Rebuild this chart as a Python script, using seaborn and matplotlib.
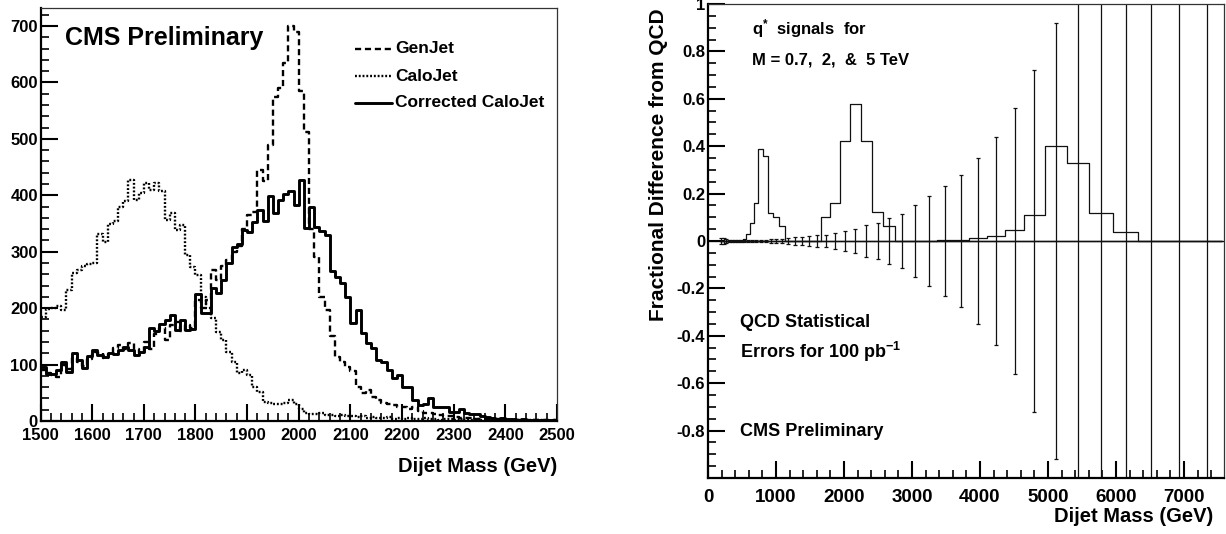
"""
Dijet mass: GenJet / CaloJet / Corrected CaloJet (left) and
q* signals vs QCD statistical errors (right).
"""
import numpy as np
import pandas as pd
import matplotlib
matplotlib.use("Agg")
import matplotlib.pyplot as plt
from matplotlib.ticker import MultipleLocator, FixedLocator, FixedFormatter
import seaborn as sns

# ── Left panel data (10 GeV bins, 1500-2500 GeV) ─────────────────────────────
mass_edges = list(range(1500, 2501, 10))

calojet = [
    185, 198, 200, 203, 197, 232, 262, 268, 275, 278,
    280, 331, 317, 350, 355, 380, 390, 427, 392, 404,
    422, 410, 422, 408, 356, 369, 339, 348, 294, 273,
    259, 220, 200, 183, 158, 144, 122, 105, 85, 90,
    82, 61, 51, 34, 32, 30, 30, 32, 38, 30,
    22, 15, 13, 12, 14, 11, 10, 9, 11, 8,
    9, 7, 8, 6, 7, 5, 6, 7, 4, 5,
    4, 5, 3, 4, 6, 3, 4, 2, 3, 3,
    2, 3, 2, 2, 3, 1, 2, 2, 1, 2,
    1, 2, 1, 1, 2, 1, 1, 1, 0, 1,
]

corrected = [
    95, 83, 83, 90, 105, 87, 121, 108, 94, 115,
    126, 117, 114, 120, 118, 126, 131, 126, 117, 122,
    131, 165, 160, 172, 179, 188, 161, 179, 161, 163,
    225, 192, 192, 235, 227, 250, 280, 309, 313, 339,
    335, 353, 374, 355, 398, 368, 392, 402, 407, 383,
    427, 342, 380, 344, 336, 330, 265, 255, 244, 220,
    173, 197, 156, 138, 129, 108, 104, 90, 76, 81,
    61, 61, 37, 28, 30, 41, 25, 25, 25, 16,
    16, 21, 14, 12, 12, 8, 7, 5, 4, 5,
    3, 3, 2, 3, 2, 2, 1, 2, 1, 2,
]

genjet = [
    90, 85, 82, 78, 100, 92, 112, 105, 98, 110,
    122, 120, 112, 118, 130, 135, 128, 138, 128, 120,
    140, 128, 155, 165, 144, 170, 175, 160, 170, 165,
    215, 200, 215, 268, 250, 275, 285, 300, 310, 340,
    365, 370, 445, 425, 490, 575, 590, 635, 700, 690,
    585, 512, 340, 291, 220, 197, 150, 114, 105, 96,
    88, 61, 49, 55, 43, 37, 32, 30, 28, 25,
    25, 22, 25, 18, 15, 14, 12, 10, 9, 8,
    7, 6, 5, 5, 4, 4, 3, 3, 3, 2,
    2, 2, 2, 1, 2, 1, 1, 1, 1, 1,
]

legend_labels = ["GenJet", "CaloJet", "Corrected CaloJet"]

# ── Right panel data (variable dijet mass bins, GeV) ──────────────────────────
dijet_edges = [
    180, 215, 252, 290, 330, 372, 416, 462, 510, 559,
    617, 681, 740, 813, 887, 960, 1049, 1132,
    1230, 1330, 1430, 1540, 1657,
    1800, 1940, 2088, 2245, 2410, 2578, 2750,
    2945, 3150, 3363,
    3600, 3843, 4099, 4372, 4650, 4951, 5275, 5598, 5960, 6324,
    6720, 7130, 7560,
]

qcd_stat_err = [
    0.014, 0.012, 0.009, 0.006, 0.005, 0.005, 0.004, 0.004, 0.004,
    0.004, 0.004, 0.005, 0.005, 0.006, 0.007, 0.008, 0.010,
    0.012, 0.015, 0.018, 0.020, 0.024,
    0.026, 0.034, 0.042, 0.052, 0.066, 0.078, 0.095,
    0.115, 0.15, 0.19,
    0.23, 0.28, 0.35, 0.44, 0.56, 0.72, 0.92, 1.3, 1.8, 2.4,
    3.2, 4.3, 5.8,
]

signal_07 = [0, 0, 0, 0, 0, 0, 0, 0, 0.01,
             0.03, 0.075, 0.16, 0.39, 0.36, 0.117, 0.10, 0.065] + [0] * 28
signal_2 = [0] * 22 + [0.10, 0.16, 0.42, 0.577, 0.42, 0.123, 0.063] + [0] * 16
signal_5 = [0] * 32 + [0.005, 0.005, 0.013, 0.022, 0.045, 0.11,
                       0.40, 0.33, 0.117, 0.04] + [0] * 3

frac_ticks = [-0.8, -0.6, -0.4, -0.2, 0, 0.2, 0.4, 0.6, 0.8, 1]
frac_labels = ["-0.8", "-0.6", "-0.4", "-0.2", "0", "0.2", "0.4", "0.6", "0.8", "1"]

# ── Style ─────────────────────────────────────────────────────────────────────
sns.set_theme(style="white", rc={
    "text.color": "black", "axes.labelcolor": "black",
    "xtick.color": "black", "ytick.color": "black",
    "axes.edgecolor": "black",
})
plt.rcParams["font.family"] = ["Liberation Sans", "DejaVu Sans"]
plt.rcParams["font.weight"] = "bold"
plt.rcParams["mathtext.fontset"] = "custom"
plt.rcParams["mathtext.rm"] = "Liberation Sans:bold"
plt.rcParams["mathtext.it"] = "Liberation Sans:bold"
plt.rcParams["mathtext.bf"] = "Liberation Sans:bold"

fig = plt.figure(figsize=(12.26, 5.34), dpi=100)
ax1 = fig.add_axes([0.0331, 0.2116, 0.4212, 0.7734])
ax2 = fig.add_axes([0.5775, 0.1049, 0.4209, 0.8876])


def style_frame(ax):
    for side in ["left", "bottom"]:
        ax.spines[side].set_linewidth(1.6)
        ax.spines[side].set_color("black")
    for side in ["top", "right"]:
        ax.spines[side].set_linewidth(0.9)
        ax.spines[side].set_color("#333333")
    ax.tick_params(which="major", direction="in", length=12, width=1.5,
                   color="black", bottom=True, left=True, top=False, right=False)
    ax.tick_params(which="minor", direction="in", length=6, width=1.2,
                   color="black", bottom=True, left=True, top=False, right=False)
    ax.grid(False)


def step_hist(ax, edges, values, **kws):
    edges = np.asarray(edges, dtype=float)
    df = pd.DataFrame({"mass": (edges[:-1] + edges[1:]) / 2,
                       "entries": values})
    sns.histplot(data=df, x="mass", weights="entries", bins=list(edges),
                 element="step", fill=False, color=kws.pop("color", "black"),
                 ax=ax, **kws)


# ── Left panel ────────────────────────────────────────────────────────────────
step_hist(ax1, mass_edges, genjet, linewidth=1.7, linestyle=(0, (2.6, 1.6)))
step_hist(ax1, mass_edges, calojet, linewidth=1.7, linestyle=(0, (0.8, 0.8)))
step_hist(ax1, mass_edges, corrected, linewidth=2.1)

ax1.set_xlim(1500, 2500)
ax1.set_ylim(0, 732)
ax1.xaxis.set_major_locator(MultipleLocator(100))
ax1.xaxis.set_minor_locator(MultipleLocator(20))
ax1.yaxis.set_major_locator(MultipleLocator(100))
ax1.yaxis.set_minor_locator(MultipleLocator(20))
style_frame(ax1)
ax1.tick_params(axis="x", labelsize=12, pad=5)
ax1.tick_params(axis="y", labelsize=12, pad=2)
ax1.set_xlabel("")
ax1.set_ylabel("")

ax1.text(0.047, 0.910, "CMS Preliminary", transform=ax1.transAxes,
         fontsize=18, fontweight="bold", ha="left", va="baseline")

leg_styles = [dict(linestyle=(0, (2.6, 1.6)), linewidth=1.7),
              dict(linestyle=(0, (0.8, 0.8)), linewidth=1.7),
              dict(linestyle="-", linewidth=2.1)]
leg_y = [0.901, 0.835, 0.770]
for lab, st, yy in zip(legend_labels, leg_styles, leg_y):
    ax1.plot([0.609, 0.680], [yy, yy], color="black", transform=ax1.transAxes,
             clip_on=False, **st)
    ax1.text(0.687, yy, lab, transform=ax1.transAxes, fontsize=12.5,
             fontweight="bold", ha="left", va="center")

fig.text(557 / 1226, 1 - 467 / 534, "Dijet Mass (GeV)", ha="right",
         va="center", fontsize=14.5, fontweight="bold")

# ── Right panel ───────────────────────────────────────────────────────────────
edges_r = np.array(dijet_edges, dtype=float)
centers_r = (edges_r[:-1] + edges_r[1:]) / 2

ax2.axhline(0, color="black", linewidth=0.9)
for sig in [signal_07, signal_2, signal_5]:
    step_hist(ax2, dijet_edges, sig, color="#111111", linewidth=0.9)

ax2.errorbar(centers_r, np.zeros(len(centers_r)), yerr=qcd_stat_err,
             fmt="none", ecolor="#111111", elinewidth=0.9, capsize=1.5,
             capthick=0.9)

ax2.set_xlim(0, 7590)
ax2.set_ylim(-1, 1)
ax2.xaxis.set_major_locator(MultipleLocator(1000))
ax2.xaxis.set_minor_locator(MultipleLocator(200))
ax2.yaxis.set_major_locator(FixedLocator(frac_ticks))
ax2.yaxis.set_major_formatter(FixedFormatter(frac_labels))
ax2.yaxis.set_minor_locator(MultipleLocator(0.05))
style_frame(ax2)
ax2.tick_params(axis="x", labelsize=13.5, pad=8)
ax2.tick_params(axis="y", labelsize=12, pad=2)
ax2.set_xlabel("")
ax2.set_ylabel("")

ax2.text(0.085, 0.935, "q$^{*}$  signals  for", transform=ax2.transAxes,
         fontsize=12, fontweight="bold", ha="left", va="baseline")
ax2.text(0.085, 0.873, "M = 0.7,  2,  &  5 TeV", transform=ax2.transAxes,
         fontsize=12, fontweight="bold", ha="left", va="baseline")
ax2.text(0.062, 0.319, "QCD Statistical", transform=ax2.transAxes,
         fontsize=13, fontweight="bold", ha="left", va="baseline")
ax2.text(0.062, 0.2525, "Errors for 100 pb$^{-1}$", transform=ax2.transAxes,
         fontsize=13, fontweight="bold", ha="left", va="baseline")
ax2.text(0.062, 0.0886, "CMS Preliminary", transform=ax2.transAxes,
         fontsize=13, fontweight="bold", ha="left", va="baseline")

fig.text(659 / 1226, 1 - 165 / 534, "Fractional Difference from QCD",
         rotation=90, ha="center", va="center", fontsize=15, fontweight="bold")
fig.text(1213 / 1226, 1 - 517 / 534, "Dijet Mass (GeV)", ha="right",
         va="center", fontsize=14.5, fontweight="bold")

fig.savefig("out.png", dpi=100)
plt.close(fig)
